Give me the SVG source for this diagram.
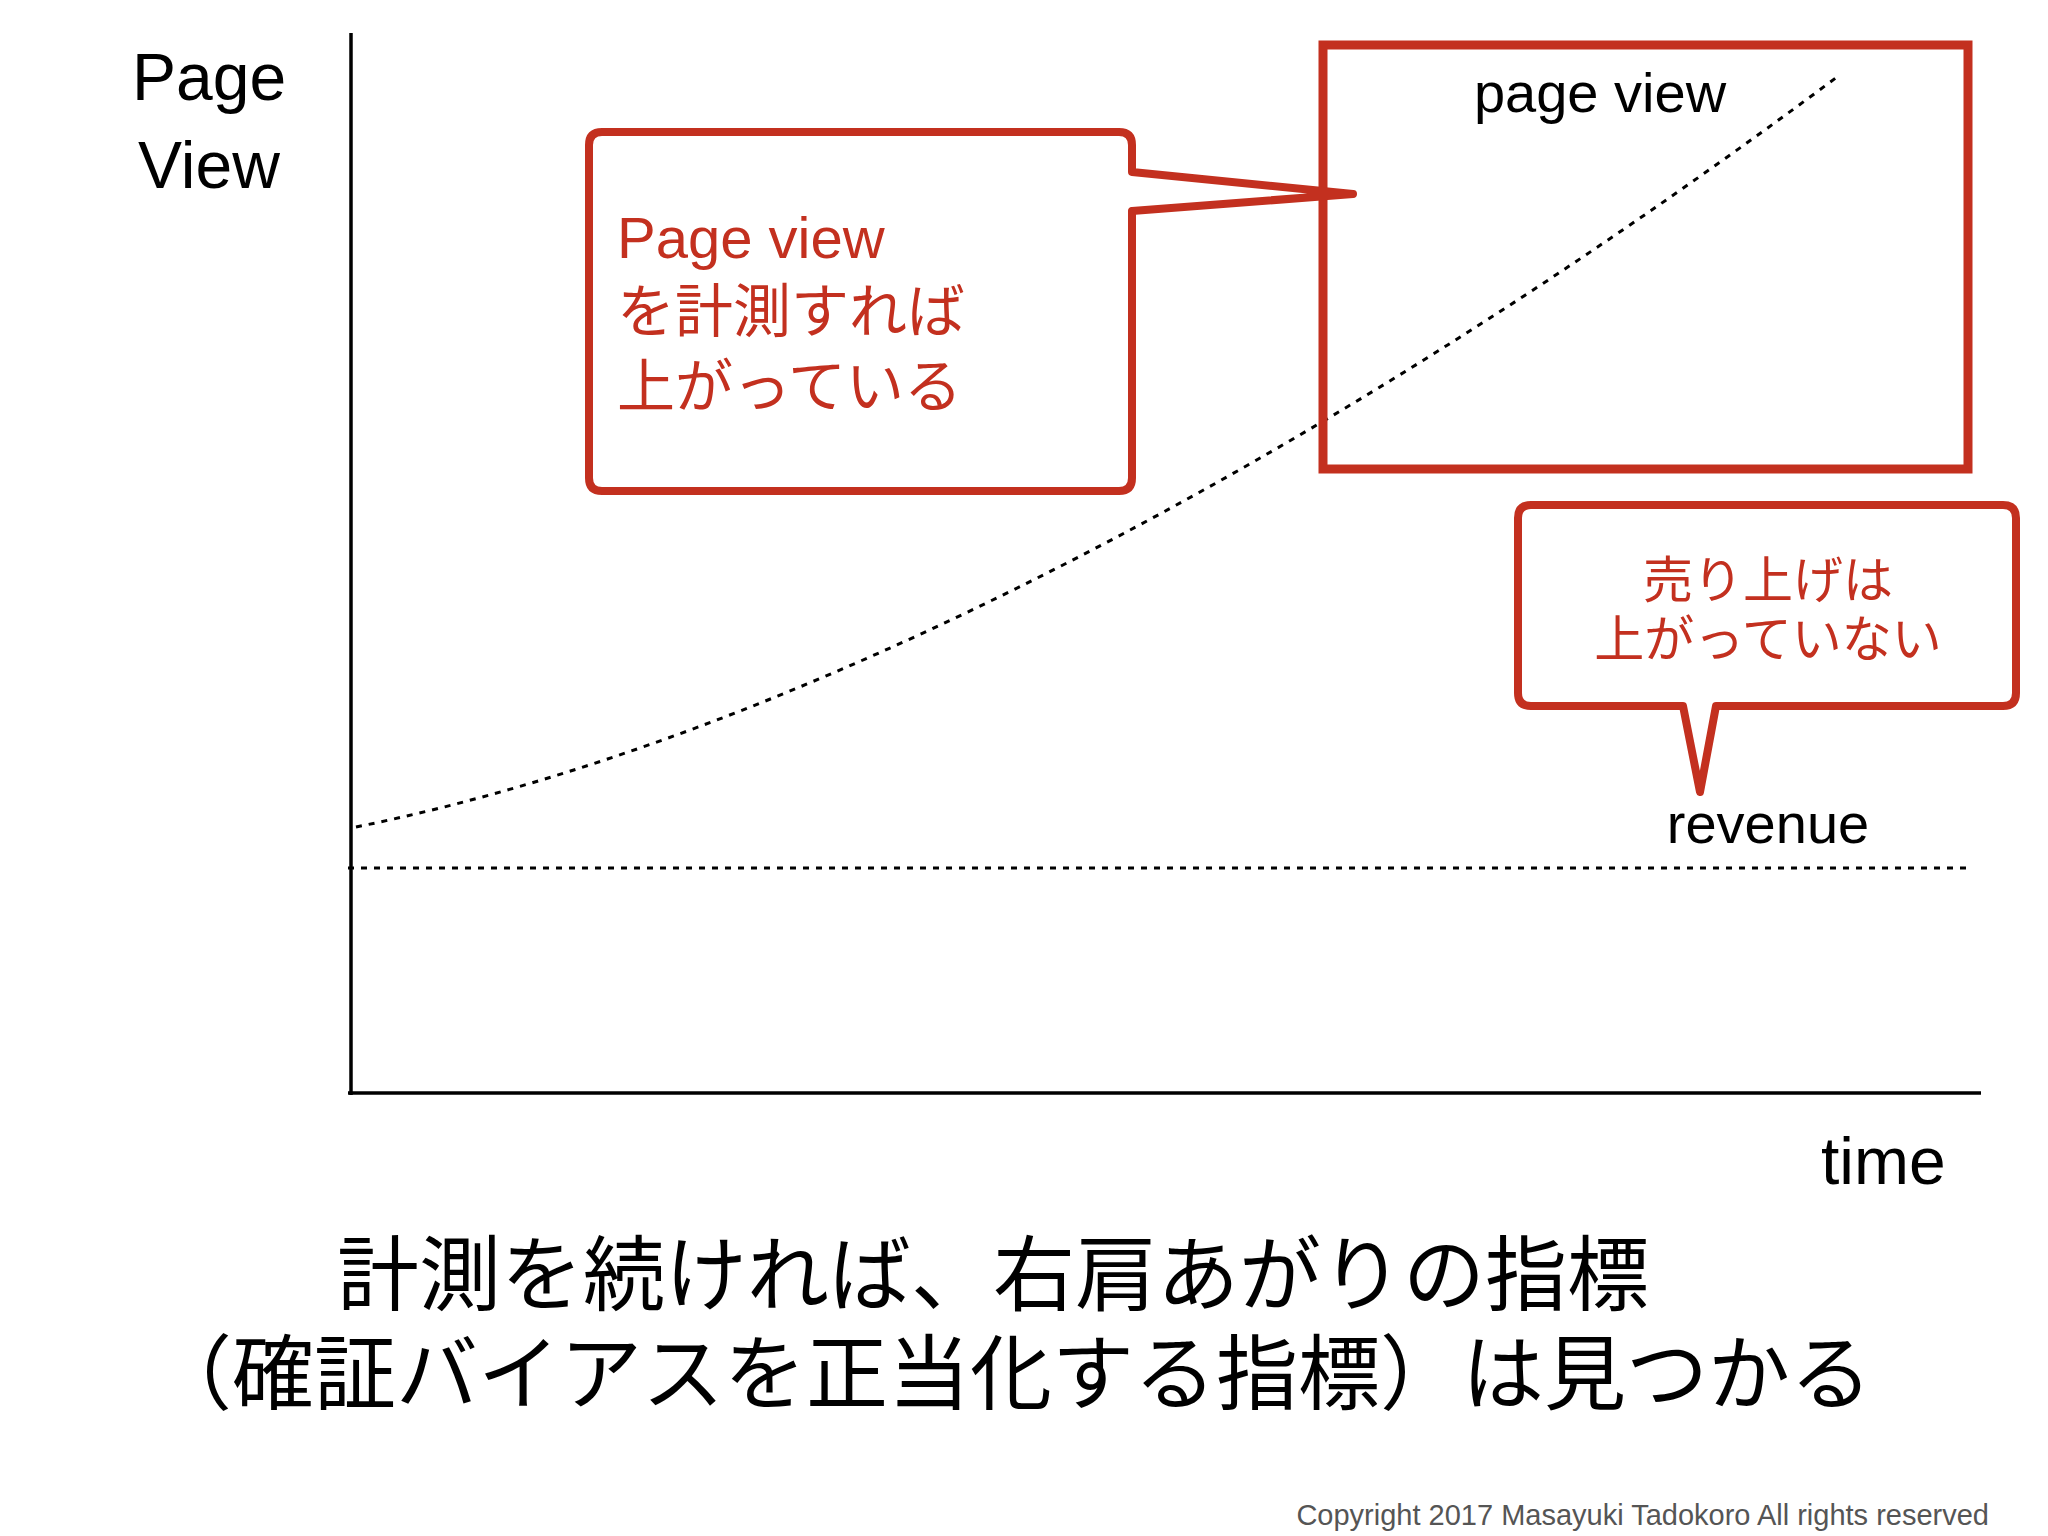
<svg xmlns="http://www.w3.org/2000/svg" width="2048" height="1536" viewBox="0 0 2048 1536">
<style>
.t{font-family:"Liberation Sans","Noto Sans CJK JP",sans-serif;fill:#000}
.r{fill:#c3301f}
.callout{fill:#fff;stroke:#c3301f;stroke-width:8;stroke-linejoin:round}
.dot{fill:none;stroke:#000;stroke-width:3;stroke-dasharray:6 7}
</style>
<rect width="2048" height="1536" fill="#fff"/>
<g id="axes" stroke="#000" stroke-width="3.5">
<line x1="351" y1="33" x2="351" y2="1095"/>
<line x1="348" y1="1093" x2="1981" y2="1093"/>
</g>
<g id="labels">
<text class="t" x="132" y="100" font-size="66">Page</text>
<text class="t" x="138" y="188" font-size="66">View</text>
<text class="t" x="1821" y="1184" font-size="66">time</text>
<text class="t" x="1768" y="843" font-size="56" text-anchor="middle">revenue</text>
</g>
<g id="connectors">
<path class="dot" d="M356 827 C792 739 1320 462 1837 77"/>
<line class="dot" x1="348" y1="868" x2="1973" y2="868"/>
</g>
<g id="highlight">
<rect x="1323" y="45" width="645" height="424" fill="none" stroke="#c3301f" stroke-width="9"/>
<text class="t" x="1600" y="112" font-size="56" text-anchor="middle">page view</text>
</g>
<g id="callout1">
<path class="callout" d="M602 132 H1119 Q1132 132 1132 145 V172 L1353 194 L1132 211 V478 Q1132 491 1119 491 H602 Q589 491 589 478 V145 Q589 132 602 132 Z"/>
<text class="t r" x="617" y="258" font-size="58">Page view</text>
<text class="t r" x="617" y="332" font-size="58">を計測すれば</text>
<text class="t r" x="617" y="407" font-size="58">上がっている</text>
</g>
<g id="callout2">
<path class="callout" d="M1531 505 H2003 Q2016 505 2016 518 V693 Q2016 706 2003 706 H1716 L1700 792 L1683 706 H1531 Q1518 706 1518 693 V518 Q1518 505 1531 505 Z"/>
<text class="t r" x="1768" y="598" font-size="50" text-anchor="middle">売り上げは</text>
<text class="t r" x="1768" y="657" font-size="50" text-anchor="middle">上がっていない</text>
</g>
<g id="caption">
<text class="t" x="337" y="1304" font-size="82">計測を続ければ、右肩あがりの指標</text>
<text class="t" x="150" y="1403" font-size="82">（確証バイアスを正当化する指標）は見つかる</text>
<text class="t" x="1989" y="1525" font-size="29" text-anchor="end" fill="#555" style="fill:#555">Copyright 2017 Masayuki Tadokoro All rights reserved</text>
</g>
</svg>
